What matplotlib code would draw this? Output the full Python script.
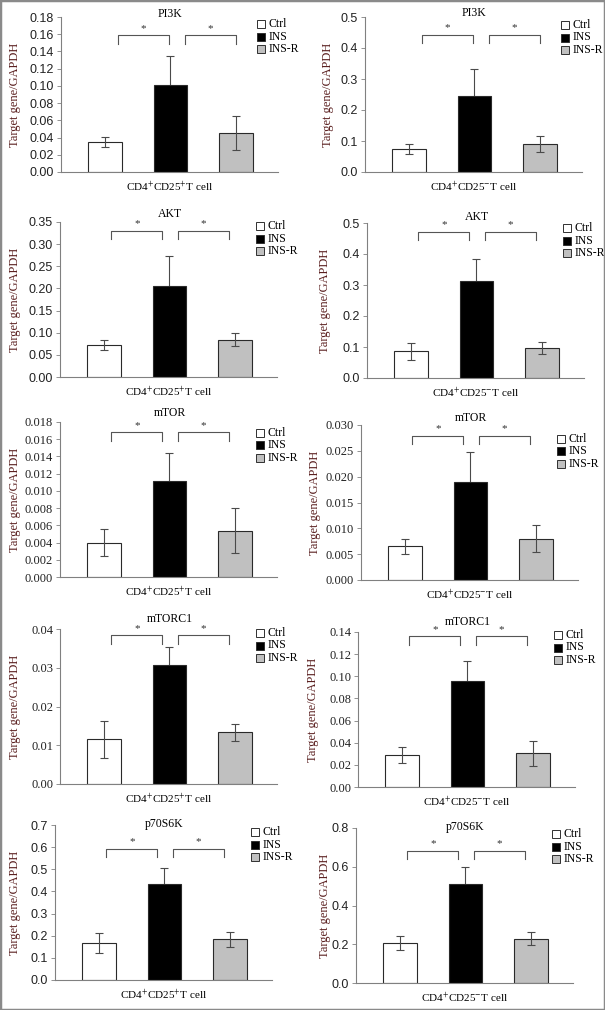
import numpy as np
import matplotlib
matplotlib.use('Agg')
import matplotlib.pyplot as plt
from matplotlib.patches import Rectangle

plt.rcParams['mathtext.fontset'] = 'stix'

## data
genes = ['PI3K', 'AKT', 'mTOR', 'mTORC1', 'p70S6K']
groups = ['Ctrl', 'INS', 'INS-R']
cells = [r'CD4$^{+}$CD25$^{+}$T cell', r'CD4$^{+}$CD25$^{-}$T cell']

pi3k_pos = [0.035, 0.101, 0.045]
pi3k_pos_err = [0.006, 0.034, 0.020]
pi3k_neg = [0.073, 0.245, 0.091]
pi3k_neg_err = [0.016, 0.088, 0.025]

akt_pos = [0.0715, 0.205, 0.084]
akt_pos_err = [0.011, 0.069, 0.015]
akt_neg = [0.086, 0.314, 0.097]
akt_neg_err = [0.027, 0.071, 0.019]

mtor_pos = [0.0040, 0.0112, 0.0054]
mtor_pos_err = [0.0016, 0.0032, 0.0026]
mtor_neg = [0.0065, 0.0189, 0.0080]
mtor_neg_err = [0.0015, 0.0059, 0.0026]

mtorc1_pos = [0.0115, 0.0307, 0.0133]
mtorc1_pos_err = [0.0047, 0.0046, 0.0023]
mtorc1_neg = [0.0287, 0.0953, 0.0305]
mtorc1_neg_err = [0.0073, 0.0187, 0.0115]

p70_pos = [0.168, 0.433, 0.183]
p70_pos_err = [0.045, 0.072, 0.033]
p70_neg = [0.2065, 0.511, 0.229]
p70_neg_err = [0.034, 0.086, 0.034]

means = [pi3k_pos, pi3k_neg, akt_pos, akt_neg, mtor_pos, mtor_neg,
         mtorc1_pos, mtorc1_neg, p70_pos, p70_neg]
errs = [pi3k_pos_err, pi3k_neg_err, akt_pos_err, akt_neg_err, mtor_pos_err,
        mtor_neg_err, mtorc1_pos_err, mtorc1_neg_err, p70_pos_err, p70_neg_err]

ymax = [0.18, 0.5, 0.35, 0.5, 0.018, 0.030, 0.04, 0.14, 0.7, 0.8]
ystep = [0.02, 0.1, 0.05, 0.1, 0.002, 0.005, 0.01, 0.02, 0.1, 0.2]
ydec = [2, 1, 2, 1, 3, 3, 2, 2, 1, 1]

## layout (pixels)
W, H = 605, 1010
ax_w, ax_h = 217, 155
ax_pos = [(61, 17), (365, 17), (60, 222), (367, 223), (60, 422),
          (361, 425), (60, 629), (358, 632), (55, 825), (356, 828)]
title_off = [3, 4, 8, 6, 9, 7, 10, 10, 1, 1]
ylab_off = [46, 37, 45, 42, 45, 46, 45, 45, 40, 31]
leg_start = [7, 8, 4, 5, 11, 14, 4, 3, 7, 6]
bracket_top = [0.882, 0.886, 0.942, 0.942, 0.933, 0.931, 0.959, 0.972, 0.846, 0.852]
bracket_shift = [0.09, 0.09, 0, 0, 0, 0, 0, 0, 0, 0]

colors = ['white', 'black', '#c0c0c0']
x = np.arange(len(groups))

fig = plt.figure(figsize=(W / 100, H / 100), dpi=100)

for i in range(10):
    left, top = ax_pos[i]
    ax = fig.add_axes([left / W, 1 - (top + ax_h) / H, ax_w / W, ax_h / H])
    row, col = divmod(i, 2)
    tick_font = 'Liberation Serif' if row in (2, 3) else 'Liberation Sans'

    ax.bar(x, means[i], width=0.52, color=colors, edgecolor='#2a2a2a',
           linewidth=0.8, zorder=2)
    # error bars: the black bar hides the lower half of its own bar
    for k in range(len(groups)):
        ax.errorbar(x[k], means[i][k], yerr=errs[i][k], fmt='none',
                    ecolor='#4a4a4a', elinewidth=0.8, capsize=3.2,
                    capthick=0.8, zorder=1 if k == 1 else 3)

    ax.set_xlim(-0.68, 2.65)
    ax.set_ylim(0, ymax[i])
    ticks = np.arange(0, ymax[i] + ystep[i] / 2, ystep[i])
    ax.set_yticks(ticks)
    ax.set_yticklabels([f'{t:.{ydec[i]}f}' for t in ticks],
                       family=tick_font, fontsize=9, color='#222222')
    ax.set_xticks([])
    for s in ['top', 'right']:
        ax.spines[s].set_visible(False)
    for s in ['left', 'bottom']:
        ax.spines[s].set_color('#808080')
        ax.spines[s].set_linewidth(0.8)
    ax.tick_params(axis='y', direction='out', length=3, width=0.6,
                   color='#808080', pad=2)

    ax.set_ylabel('Target gene/GAPDH', family='Liberation Serif',
                  fontsize=9, color='#5a1f1f', va='center')
    ax.yaxis.set_label_coords(-ylab_off[i] / ax_w, 0.5)

    ax.text(0.5, -15 / ax_h, cells[col], transform=ax.transAxes,
            ha='center', va='center', family='Liberation Serif', fontsize=8)
    ax.text(1.0, 1 + title_off[i] / ax_h, genes[row],
            transform=ax.get_xaxis_transform(), ha='center', va='center',
            family='Liberation Serif', fontsize=8.5)

    # significance brackets
    sh = bracket_shift[i]
    yt = bracket_top[i]
    yb = yt - 0.053
    for x0, x1 in [(0.11 + sh, 0.89 + sh), (1.13 + sh, 1.91 + sh)]:
        ax.plot([x0, x0, x1, x1], [yb, yt, yt, yb], color='#555555', lw=0.8,
                transform=ax.get_xaxis_transform(), clip_on=False)
        ax.text((x0 + x1) / 2, yt + 0.045, '*', transform=ax.get_xaxis_transform(),
                ha='center', va='center', family='Liberation Serif',
                fontsize=8, color='#333333')

    # legend
    lx = 0.905
    for k, (lab, c) in enumerate(zip(groups, colors)):
        yc = 1 - (leg_start[i] + k * 12.5) / ax_h
        ax.add_patch(Rectangle((lx, yc - 4 / ax_h), 8 / ax_w, 8 / ax_h,
                               transform=ax.transAxes, facecolor=c,
                               edgecolor='#303030', lw=0.7, clip_on=False))
        ax.text(lx + 11 / ax_w, yc, lab, transform=ax.transAxes, ha='left',
                va='center', family='Liberation Serif', fontsize=8.5)

fig.patches.append(Rectangle((0, 0), 1, 1, transform=fig.transFigure,
                             fill=False, edgecolor='#8a8a8a', lw=2.5))

fig.savefig('out.png', dpi=100)
